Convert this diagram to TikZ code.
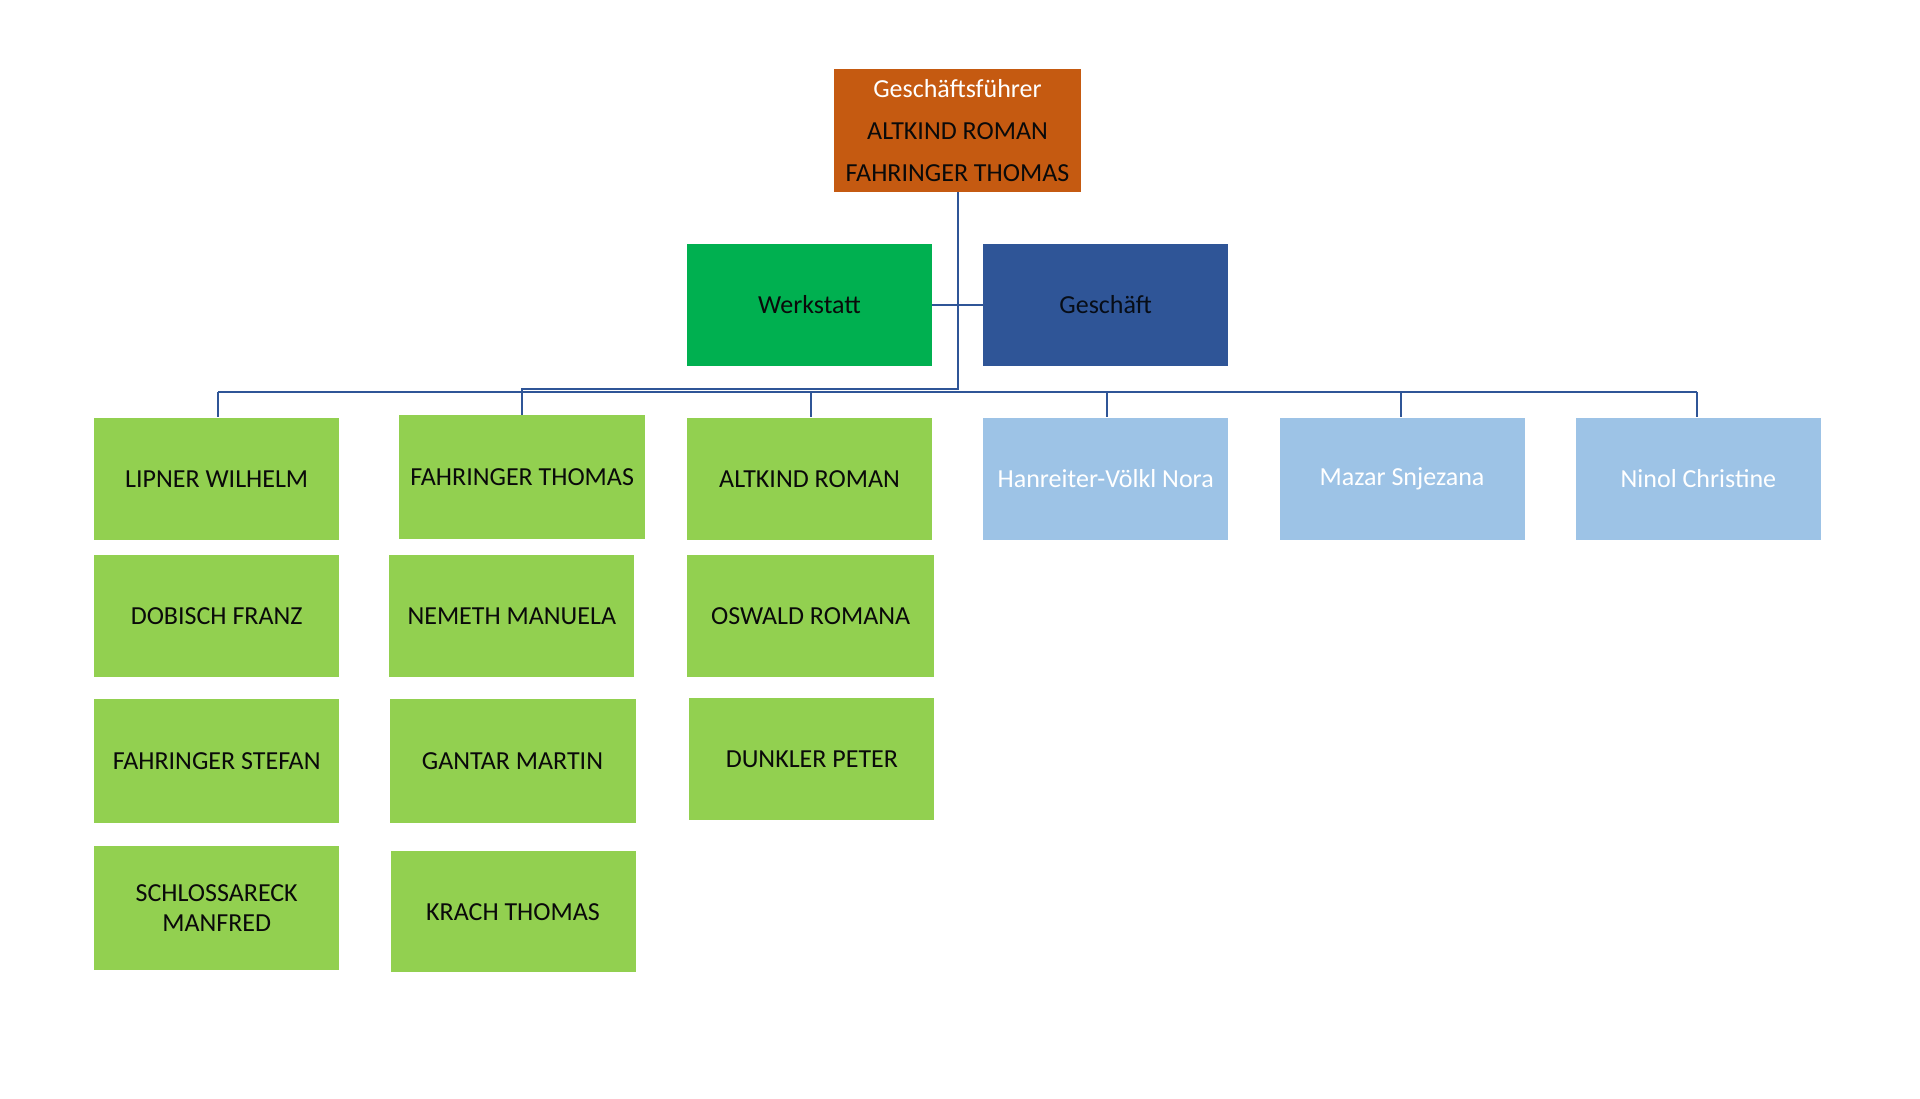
\documentclass[tikz,border=0pt]{standalone}
\usepackage{fontspec}
\setmainfont{Carlito}
\definecolor{orangebox}{HTML}{C55A11}
\definecolor{werkgreen}{HTML}{00B050}
\definecolor{geschblue}{HTML}{2F5597}
\definecolor{lightgreen}{HTML}{92D050}
\definecolor{lightblue}{HTML}{9DC3E6}
\definecolor{linecol}{HTML}{2F5597}
\definecolor{txt}{HTML}{0A0A0A}
\tikzset{
  box/.style={rectangle, inner sep=0pt, minimum width=245pt, minimum height=122.5pt, align=center, text=txt, font=\fontsize{26}{30}\selectfont},
  greenbox/.style={box, fill=lightgreen},
  bluebox/.style={box, fill=lightblue, text=white},
  conn/.style={draw=linecol, line width=2pt},
}
\begin{document}
\begin{tikzpicture}[x=1pt,y=-1pt]
\fill[white] (0,0) rectangle (1920,1098);
\useasboundingbox (0,0) rectangle (1920,1098);

% top
\node[box, fill=orangebox, minimum width=247pt, minimum height=123.7pt, font=\fontsize{26}{42}\selectfont] (top) at (957.5,130.4)
  {\textcolor{white}{Geschäftsführer}\\ALTKIND ROMAN\\FAHRINGER THOMAS};

\node[box, fill=werkgreen] (werk) at (809.5,304.9) {Werkstatt};
\node[box, fill=geschblue, text=black!85!geschblue] (gesch) at (1105.7,304.9) {Geschäft};

% column 1
\node[greenbox] (lip) at (216.7,478.8) {LIPNER WILHELM};
\node[greenbox] (dob) at (216.7,615.9) {DOBISCH FRANZ};
\node[greenbox, minimum height=123.7pt] (fst) at (216.7,761) {FAHRINGER STEFAN};
\node[greenbox, minimum height=123.7pt] (sch) at (216.7,908) {SCHLOSSARECK\\MANFRED};

% column 2
\node[greenbox, minimum width=246pt, minimum height=123.7pt] (fth) at (522.2,477) {FAHRINGER THOMAS};
\node[greenbox] (nem) at (511.8,615.9) {NEMETH MANUELA};
\node[greenbox, minimum width=246pt, minimum height=123.7pt] (gan) at (512.5,761) {GANTAR MARTIN};
\node[greenbox, minimum height=121.3pt] (kra) at (513,911.7) {KRACH THOMAS};

% column 3
\node[greenbox] (alt) at (809.5,478.8) {ALTKIND ROMAN};
\node[greenbox, minimum width=247pt] (osw) at (810.7,615.9) {OSWALD ROMANA};
\node[greenbox] (dun) at (811.9,759.2) {DUNKLER PETER};

% blue row
\node[bluebox] (han) at (1105.7,478.8) {Hanreiter-Völkl Nora};
\node[bluebox] (maz) at (1402,478.8) {Mazar Snjezana};
\node[bluebox] (nin) at (1698.4,478.8) {Ninol Christine};

% connectors
\coordinate (j) at (957.6,389.4);
\coordinate (busL) at (218,391.8);
\coordinate (busR) at (1697.2,391.8);
\draw[conn] (top.south -| j) -- (j) -- (j -| fth.north) -- (fth.north);
\draw[conn] (werk.east) -- (gesch.west);
\draw[conn] (busL) -- (busR);
\foreach \n/\xx in {lip/218, alt/810.6, han/1107, maz/1400.8, nin/1697.2}
  \draw[conn] (\xx,391.8) -- (\xx,0 |- \n.north);
\end{tikzpicture}
\end{document}
